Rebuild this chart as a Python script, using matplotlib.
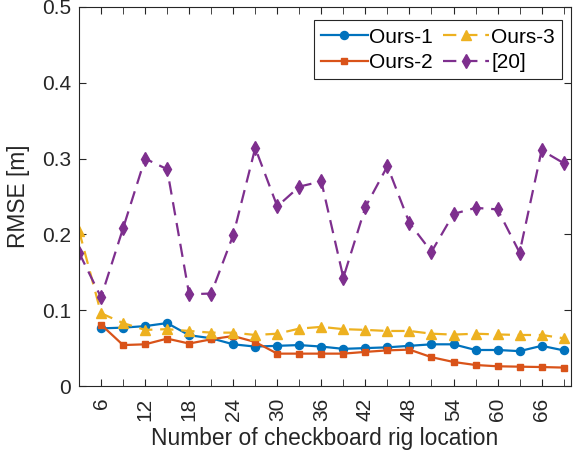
import numpy as np
import matplotlib
matplotlib.use('Agg')
import matplotlib.pyplot as plt

plt.rcParams['font.family'] = ['Liberation Sans', 'DejaVu Sans']

# number of checkboard rig locations
x_ref = np.arange(3, 70, 3)
x_ours = np.arange(6, 70, 3)

ours1 = [0.076, 0.077, 0.079, 0.083, 0.067, 0.063, 0.055, 0.052, 0.053, 0.054, 0.052,
         0.049, 0.050, 0.051, 0.053, 0.055, 0.055, 0.0475, 0.0475, 0.046, 0.053, 0.047]
ours2 = [0.081, 0.054, 0.055, 0.0625, 0.056, 0.0616, 0.066, 0.058, 0.0427, 0.0427, 0.0427,
         0.0427, 0.045, 0.047, 0.048, 0.038, 0.0317, 0.0277, 0.026, 0.0255, 0.025, 0.0243]
ours3 = [0.205, 0.096, 0.083, 0.074, 0.075, 0.0726, 0.0704, 0.0704, 0.0673, 0.069, 0.0757,
         0.078, 0.075, 0.074, 0.0726, 0.0726, 0.069, 0.0678, 0.069, 0.068, 0.0673, 0.0673, 0.063]
ref20 = [0.176, 0.117, 0.208, 0.300, 0.286, 0.121, 0.122, 0.199, 0.314, 0.237, 0.263,
         0.270, 0.143, 0.236, 0.290, 0.215, 0.177, 0.227, 0.235, 0.233, 0.176, 0.311, 0.294]

xticks = np.arange(6, 67, 6)
yticks = [0, 0.1, 0.2, 0.3, 0.4, 0.5]

fig = plt.figure(figsize=(5.73, 4.5), dpi=100)
# axes box: left 79px, right 571px, top 7px, bottom 386px
ax = fig.add_axes([79 / 573, 64 / 450, 492 / 573, 379 / 450])

ax.plot(x_ours, ours1, '-o', color='#0072BD', lw=1.6, ms=5.8, label='Ours-1')
ax.plot(x_ours, ours2, '-s', color='#D95319', lw=1.6, ms=5, label='Ours-2')
ax.plot(x_ref, ours3, '--^', color='#EDB120', lw=1.6, ms=6.5, label='Ours-3', dashes=(6, 3.5))
ax.plot(x_ref, ref20, '--d', color='#7E2F8E', lw=1.6, ms=7, label='[20]', dashes=(6, 3.5))

ax.set_xlim(3, 70)
ax.set_ylim(0, 0.5)
ax.set_xticks(xticks)
ax.set_xticks(np.arange(3, 70, 3), minor=True)
ax.set_xticklabels([str(v) for v in xticks], rotation=90)
ax.set_yticks(yticks)
ax.set_yticklabels(['0', '0.1', '0.2', '0.3', '0.4', '0.5'])
ax.tick_params(which='both', direction='in', top=True, right=True, labelsize=15, color='#262626',
               labelcolor='#262626', length=5)
ax.tick_params(axis='x', which='both', pad=8.5)
ax.tick_params(axis='y', which='both', pad=5.5)
for s in ax.spines.values():
    s.set_color('#262626')
    s.set_linewidth(0.8)

ax.set_xlabel('Number of checkboard rig location', fontsize=16.4, color='#262626', labelpad=4)
ax.set_ylabel('RMSE [m]', fontsize=16.4, color='#262626', labelpad=9)

leg = ax.legend(loc='upper right', bbox_to_anchor=(0.982, 0.965), ncol=2, fontsize=15,
                fancybox=False, framealpha=1, edgecolor='#262626', handlelength=2.25,
                handletextpad=0.08, columnspacing=0.45, labelspacing=0.3, borderpad=0.35,
                borderaxespad=0)
leg.get_frame().set_linewidth(0.8)

fig.savefig('out.png', dpi=100)
